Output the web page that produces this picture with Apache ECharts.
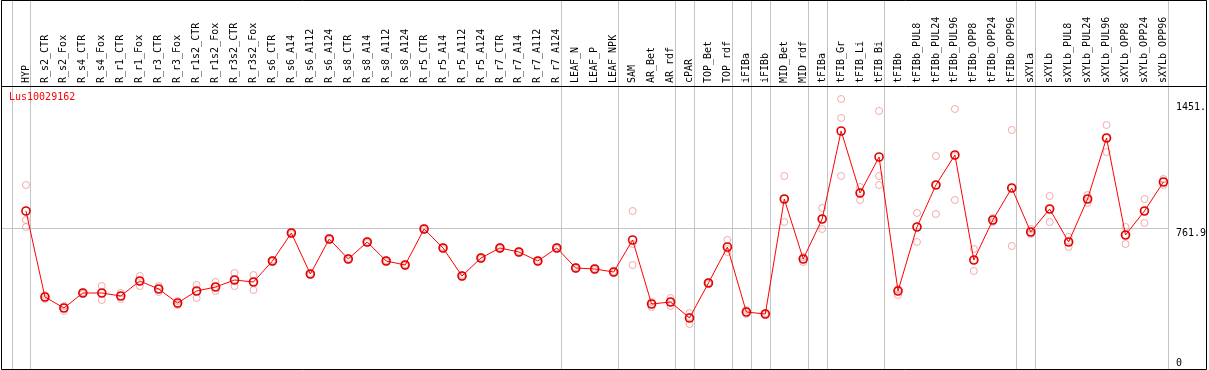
<!DOCTYPE html>
<html>
<head>
<meta charset="utf-8">
<script src="https://cdn.jsdelivr.net/npm/echarts@6/dist/echarts.min.js"></script>
<style>
html,body{margin:0;padding:0;background:#fff;}
#chart{width:1209px;height:370px;}
</style>
</head>
<body>
<div id="chart"></div>
<script>
// ---------- DATA ----------
const geneName = 'Lus10029162';
const categories = ['HYP','R_s2_CTR','R_s2_Fox','R_s4_CTR','R_s4_Fox','R_r1_CTR','R_r1_Fox','R_r3_CTR','R_r3_Fox',
  'R_r1s2_CTR','R_r1s2_Fox','R_r3s2_CTR','R_r3s2_Fox','R_s6_CTR','R_s6_A14','R_s6_A112','R_s6_A124',
  'R_s8_CTR','R_s8_A14','R_s8_A112','R_s8_A124','R_r5_CTR','R_r5_A14','R_r5_A112','R_r5_A124',
  'R_r7_CTR','R_r7_A14','R_r7_A112','R_r7_A124','LEAF_N','LEAF_P','LEAF_NPK','SAM','AR_Bet','AR_rdf',
  'cPAR','TOP_Bet','TOP_rdf','iFIBa','iFIBb','MID_Bet','MID_rdf','tFIBa','tFIB_Gr','tFIB_Li','tFIB_Bi',
  'tFIBb','tFIBb_PUL8','tFIBb_PUL24','tFIBb_PUL96','tFIBb_OPP8','tFIBb_OPP24','tFIBb_OPP96',
  'sXYLa','sXYLb','sXYLb_PUL8','sXYLb_PUL24','sXYLb_PUL96','sXYLb_OPP8','sXYLb_OPP24','sXYLb_OPP96'];
// sizes of the sample groups (separated by vertical lines)
const groupSizes = [1, 28, 3, 3, 1, 2, 1, 1, 2, 1, 3, 7, 1, 7];

const meanValues = [856.2,387.2,327.2,409.0,409.0,392.7,474.5,430.9,354.5,419.9,441.8,479.9,469.0,
  583.6,736.3,512.7,703.5,594.5,687.2,583.6,561.7,758.1,654.5,501.8,599.9,654.5,632.6,583.6,654.5,
  545.4,539.9,523.6,698.1,349.0,360.0,272.7,463.6,659.9,305.4,294.5,921.7,594.5,812.6,1292.5,954.4,
  1150.8,419.9,769.0,998.0,1161.7,589.0,807.2,981.7,741.7,867.2,687.2,921.7,1254.4,725.4,856.2,1014.4];

const rep1 = [998.1,398.1,338.1,414.5,447.2,409.1,501.8,447.2,365.4,452.7,469.0,518.1,507.2,
  589.0,741.7,518.1,709.0,599.9,692.7,589.0,567.2,763.6,659.9,507.2,605.4,659.9,638.1,589.0,659.9,
  550.9,545.4,529.1,856.3,360.0,381.8,300.0,469.0,698.1,316.3,300.0,1047.2,605.4,872.6,1467.1,987.2,
  1401.7,430.9,845.4,1156.2,1412.6,649.0,818.1,1298.1,758.1,938.1,714.5,943.5,1325.3,769.0,921.7,1030.8];
const rep2 = [807.2,387.2,327.2,409.1,409.1,392.7,474.5,430.9,349.1,420.0,441.8,480.0,469.0,
  583.6,736.3,512.7,703.6,594.5,687.2,583.6,561.8,758.1,654.5,501.8,599.9,654.5,632.7,583.6,654.5,
  545.4,540.0,523.6,676.3,349.1,360.0,278.2,463.6,649.0,305.4,294.5,921.7,594.5,812.6,1363.5,959.9,
  1047.2,425.4,769.0,998.1,1156.2,589.0,807.2,981.7,741.7,867.2,687.2,921.7,1254.4,725.4,856.3,1014.4];
const rep3 = [769.0,376.3,310.9,403.6,370.9,376.3,447.2,414.5,343.6,381.8,420.0,447.2,425.4,
  578.1,730.8,507.2,698.1,589.0,681.8,578.1,556.3,752.7,649.0,496.3,594.5,649.0,627.2,578.1,649.0,
  540.0,534.5,518.1,561.8,332.7,338.1,240.0,458.1,632.7,294.5,289.1,796.3,578.1,758.1,1047.2,916.3,
  998.1,398.1,687.2,839.9,916.3,529.1,796.3,665.4,730.8,796.3,659.9,899.9,1178.1,676.3,790.8,998.1];

const yTickValues = [0, 761.9, 1451];
const yTickLabels = ['0', '761.9', '1451.'];
const yMax = 1538;

// ---------- CHART ----------
const FONT = 'DejaVu Sans Mono';
const chart = echarts.init(document.getElementById('chart'), null, {renderer: 'canvas'});

function tickLabel(v) {
  for (let i = 0; i < yTickValues.length; i++) {
    if (Math.abs(v - yTickValues[i]) < 0.01) return yTickLabels[i];
  }
  return '';
}

const repData = [];
[rep1, rep2, rep3].forEach(arr => arr.forEach((v, i) => repData.push([categories[i], v])));

const option = {
  backgroundColor: '#ffffff',
  animation: false,
  title: {
    text: geneName, left: 9, top: 92, padding: 0,
    textStyle: {color: '#ff0000', fontSize: 10, fontWeight: 'normal', fontFamily: FONT}
  },
  grid: {left: 16.5, right: 33.5, top: 86, bottom: 2, containLabel: false},
  xAxis: {
    type: 'category', data: categories, position: 'top', boundaryGap: true,
    axisLine: {show: false}, axisTick: {show: false}, splitLine: {show: false},
    axisLabel: {interval: 0, rotate: 90, margin: 3, fontSize: 10, fontFamily: FONT, color: '#000'}
  },
  yAxis: [
    {
      type: 'value', position: 'right', min: 0, max: yMax, interval: yTickValues[1],
      axisLine: {show: false}, axisTick: {show: false}, splitLine: {show: false},
      axisLabel: {
        margin: 3, fontSize: 10, fontFamily: FONT, color: '#000',
        verticalAlign: 'top', verticalAlignMinLabel: 'bottom', showMaxLabel: false,
        formatter: v => (v < 1000 ? tickLabel(v) : '')
      }
    },
    {
      type: 'value', position: 'right', min: 0, max: yMax, interval: yTickValues[2],
      axisLine: {show: false}, axisTick: {show: false}, splitLine: {show: false},
      axisLabel: {
        margin: 3, fontSize: 10, fontFamily: FONT, color: '#000',
        verticalAlign: 'top', showMaxLabel: false,
        formatter: v => (v > 1000 ? tickLabel(v) : '')
      }
    }
  ],
  series: [
    {
      name: geneName + ' replicates', type: 'scatter', data: repData, z: 2,
      symbol: 'circle', symbolSize: 7,
      itemStyle: {color: 'rgba(0,0,0,0)', borderColor: '#f09595', borderWidth: 1}
    },
    {
      name: geneName, type: 'line', data: meanValues, z: 3,
      symbol: 'circle', symbolSize: 8, showAllSymbol: true,
      lineStyle: {color: '#ff0000', width: 1},
      itemStyle: {color: 'rgba(0,0,0,0)', borderColor: '#e00000', borderWidth: 1.6}
    }
  ]
};
chart.setOption(option);

// ---------- decorations: frame, header line, group separators, reference line ----------
const graphics = [];
graphics.push({type: 'rect', shape: {x: 1.5, y: 0.5, width: 1205, height: 369},
  style: {fill: null, stroke: '#000', lineWidth: 1}, z: 10});
graphics.push({type: 'line', shape: {x1: 1, y1: 86.5, x2: 1207, y2: 86.5},
  style: {stroke: '#000', lineWidth: 1}, z: 10});
const step = chart.convertToPixel({xAxisIndex: 0}, categories[1]) - chart.convertToPixel({xAxisIndex: 0}, categories[0]);
const sepXs = [];
let end = -1;
sepXs.push(Math.round(chart.convertToPixel({xAxisIndex: 0}, categories[0]) - step + 4.5) + 0.5);
groupSizes.forEach(s => {
  end += s;
  sepXs.push(Math.round(chart.convertToPixel({xAxisIndex: 0}, categories[end]) + 4.5) + 0.5);
});
sepXs.forEach(x => graphics.push({type: 'line', shape: {x1: x, y1: 0, x2: x, y2: 370},
  style: {stroke: '#c4c4c4', lineWidth: 1}, z: 1}));
const yRef = Math.round(chart.convertToPixel({yAxisIndex: 0}, yTickValues[1])) + 0.5;
graphics.push({type: 'line', shape: {x1: 1, y1: yRef, x2: sepXs[sepXs.length - 1], y2: yRef},
  style: {stroke: '#c4c4c4', lineWidth: 1}, z: 1});
chart.setOption({graphic: graphics});
</script>
</body>
</html>
